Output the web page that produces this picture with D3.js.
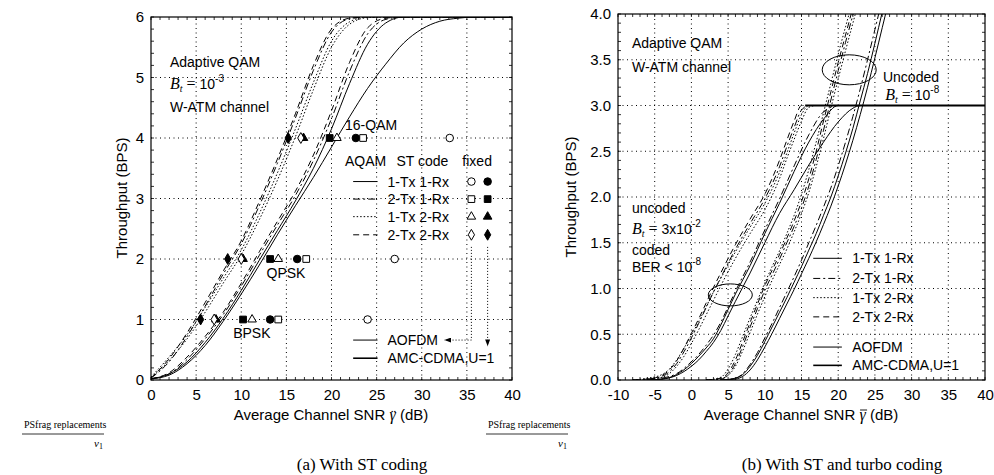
<!DOCTYPE html>
<html>
<head>
<meta charset="utf-8">
<script src="https://cdn.jsdelivr.net/npm/d3@7"></script>
<style>
  body { margin: 0; background: #fff; }
</style>
</head>
<body>
<div id="chart"></div>
<script>
// ---------- panel (a): adaptive QAM with ST coding ----------
var snrA = [0, 2, 4, 6, 8, 10, 12, 14, 16, 18, 20, 22, 24, 26, 28, 30, 32, 34, 36, 38, 40];
// left group (receive diversity)
var a2x2Ofdm = [0.03, 0.35, 0.78, 1.28, 1.8, 2.3, 2.95, 3.65, 4.4, 5.2, 5.8, 5.98, 6, 6, 6, 6, 6, 6, 6, 6, 6];
var a2x2Cdma = [0.03, 0.3, 0.72, 1.22, 1.75, 2.25, 2.88, 3.58, 4.33, 5.12, 5.75, 5.97, 6, 6, 6, 6, 6, 6, 6, 6, 6];
var a1x2Ofdm = [0.05, 0.38, 0.75, 1.2, 1.68, 2.15, 2.75, 3.42, 4.15, 4.92, 5.6, 5.92, 6, 6, 6, 6, 6, 6, 6, 6, 6];
var a1x2Cdma = [0.04, 0.32, 0.68, 1.12, 1.6, 2.07, 2.65, 3.3, 4.02, 4.8, 5.5, 5.88, 5.99, 6, 6, 6, 6, 6, 6, 6, 6];
// right group
var a2x1Ofdm = [0.02, 0.12, 0.38, 0.72, 1.12, 1.6, 2.12, 2.62, 3.12, 3.72, 4.45, 5.25, 5.82, 5.98, 6, 6, 6, 6, 6, 6, 6];
var a2x1Cdma = [0.02, 0.1, 0.34, 0.68, 1.08, 1.55, 2.06, 2.56, 3.05, 3.63, 4.32, 5.1, 5.72, 5.96, 6, 6, 6, 6, 6, 6, 6];
var a1x1Ofdm = [0.02, 0.1, 0.3, 0.62, 1.02, 1.48, 1.98, 2.47, 2.96, 3.5, 4.15, 4.9, 5.55, 5.9, 6, 6, 6, 6, 6, 6, 6];
var a1x1Cdma = [0.02, 0.08, 0.27, 0.57, 0.97, 1.42, 1.9, 2.4, 2.88, 3.35, 3.85, 4.35, 4.82, 5.22, 5.57, 5.8, 5.93, 5.98, 6, 6, 6];

// fixed-mode points (BPSK, QPSK, 16-QAM)
var fixedLevels = [1, 2, 4];
var fixedNames = ["BPSK", "QPSK", "16-QAM"];
var fixOfdm1x1 = [24.0, 27.0, 33.1];
var fixCdma1x1 = [13.2, 16.2, 22.7];
var fixOfdm2x1 = [14.1, 17.2, 23.5];
var fixCdma2x1 = [10.2, 13.2, 19.8];
var fixOfdm1x2 = [11.2, 14.1, 20.6];
var fixCdma1x2 = [7.2, 10.2, 16.9];
var fixOfdm2x2 = [7.0, 10.0, 16.6];
var fixCdma2x2 = [5.5, 8.5, 15.2];

var xTicksA = [0, 5, 10, 15, 20, 25, 30, 35, 40];
var yTicksA = [0, 1, 2, 3, 4, 5, 6];

// ---------- panel (b): adaptive QAM with ST and turbo coding ----------
// coded, dashed / dotted group
var snrB1 = [-8, -6, -4, -3, -2, -1, 0, 1, 2, 3, 4, 6, 8, 10, 12, 13, 14, 15, 16, 17, 40];
var b2x2Coded = [0, 0.01, 0.05, 0.11, 0.21, 0.35, 0.51, 0.67, 0.84, 1.01, 1.17, 1.48, 1.76, 2.03, 2.4, 2.62, 2.83, 3.0, 3.0, 3.0, 3.0];
var b2x1Coded = [0, 0.01, 0.04, 0.09, 0.18, 0.31, 0.46, 0.62, 0.79, 0.96, 1.12, 1.43, 1.71, 1.98, 2.33, 2.55, 2.76, 2.95, 3.0, 3.0, 3.0];
var b1x2CodedA = [0, 0.02, 0.06, 0.12, 0.22, 0.35, 0.49, 0.64, 0.8, 0.96, 1.11, 1.4, 1.67, 1.93, 2.27, 2.48, 2.7, 2.9, 3.0, 3.0, 3.0];
var b1x2CodedB = [0, 0.01, 0.03, 0.07, 0.15, 0.26, 0.4, 0.55, 0.71, 0.87, 1.03, 1.33, 1.6, 1.86, 2.2, 2.42, 2.63, 2.83, 2.98, 3.0, 3.0];
// coded, 1-Tx 1-Rx group
var snrB2 = [-6, -4, -2, 0, 1, 2, 3, 4, 5, 6, 8, 10, 12, 14, 16, 18, 20, 22, 23, 40];
var b1x1CodedOfdm = [0, 0.01, 0.06, 0.18, 0.26, 0.35, 0.45, 0.6, 0.77, 0.94, 1.25, 1.6, 1.93, 2.28, 2.6, 2.85, 3.0, 3.0, 3.0, 3.0];
var b1x1CodedCdma = [0, 0.01, 0.05, 0.15, 0.22, 0.31, 0.41, 0.54, 0.7, 0.86, 1.17, 1.5, 1.82, 2.08, 2.35, 2.6, 2.82, 2.97, 3.0, 3.0];
var b2x1CodedCdma = [0, 0.02, 0.07, 0.2, 0.28, 0.38, 0.49, 0.63, 0.8, 0.97, 1.29, 1.64, 1.98, 2.34, 2.68, 2.93, 3.0, 3.0, 3.0, 3.0];
// uncoded, dashed / dotted group
var snrB3 = [2, 4, 5, 6, 7, 8, 9, 10, 11, 12, 13, 14, 15, 16, 17, 18, 19, 20, 21, 22, 23];
var b2x2Unc = [0, 0.02, 0.08, 0.22, 0.42, 0.63, 0.83, 1.03, 1.2, 1.37, 1.55, 1.74, 1.95, 2.2, 2.5, 2.83, 3.15, 3.47, 3.77, 4.07, 4.37];
var b2x1Unc = [0, 0.01, 0.06, 0.18, 0.37, 0.58, 0.78, 0.98, 1.15, 1.32, 1.5, 1.68, 1.88, 2.12, 2.41, 2.73, 3.06, 3.38, 3.69, 3.99, 4.3];
var b1x2UncA = [0, 0.03, 0.12, 0.28, 0.48, 0.68, 0.87, 1.06, 1.24, 1.41, 1.6, 1.8, 2.03, 2.3, 2.6, 2.92, 3.24, 3.56, 3.86, 4.15, 4.45];
var b1x2UncB = [0, 0.01, 0.05, 0.15, 0.32, 0.52, 0.72, 0.91, 1.09, 1.26, 1.43, 1.62, 1.82, 2.05, 2.33, 2.64, 2.97, 3.29, 3.6, 3.9, 4.2];
// uncoded, 1-Tx 1-Rx group
var snrB4 = [4, 6, 7, 8, 9, 10, 11, 12, 13, 14, 15, 16, 17, 18, 19, 20, 21, 22, 23, 24, 25, 26, 27];
var b1x1UncOfdm = [0, 0.02, 0.06, 0.15, 0.27, 0.42, 0.58, 0.74, 0.9, 1.07, 1.24, 1.42, 1.6, 1.8, 2.0, 2.23, 2.48, 2.75, 3.05, 3.35, 3.68, 4.02, 4.35];
var b1x1UncCdma = [0, 0.01, 0.04, 0.11, 0.22, 0.36, 0.51, 0.67, 0.83, 0.99, 1.16, 1.33, 1.51, 1.7, 1.9, 2.12, 2.36, 2.62, 2.9, 3.2, 3.52, 3.85, 4.18];
var b2x1UncCdma = [0, 0.02, 0.07, 0.17, 0.3, 0.46, 0.62, 0.79, 0.96, 1.13, 1.31, 1.5, 1.69, 1.89, 2.1, 2.34, 2.6, 2.88, 3.18, 3.5, 3.83, 4.16, 4.5];

var xTicksB = [-10, -5, 0, 5, 10, 15, 20, 25, 30, 35, 40];
var yTicksB = [0, 0.5, 1, 1.5, 2, 2.5, 3, 3.5, 4];

var legendNames = ["1-Tx 1-Rx", "2-Tx 1-Rx", "1-Tx 2-Rx", "2-Tx 2-Rx"];

// line styles
var dash = { solid: null, dashdot: "7,3,2,3", dotted: "1.5,2", dashed: "6,4" };

var width = 994;
var height = 475;

var svg = d3.select("#chart")
    .append("svg")
    .attr("width", width)
    .attr("height", height)
    .attr("font-family", "Liberation Sans, Arial, sans-serif")
    .attr("fill", "#000");

var defs = svg.append("defs");
defs.append("marker")
    .attr("id", "arrow")
    .attr("viewBox", "0 0 8 6")
    .attr("refX", 8).attr("refY", 3)
    .attr("markerWidth", 7).attr("markerHeight", 5)
    .attr("markerUnits", "userSpaceOnUse")
    .attr("orient", "auto")
    .append("path").attr("d", "M0,0L8,3L0,6z").attr("fill", "#000");

function drawFrame(g, x, y, xTicks, yTicks, xMinor, yMinor, yFmt, id) {
    var x0 = x.range()[0], x1 = x.range()[1];
    var y0 = y.range()[0], y1 = y.range()[1];

    g.append("clipPath").attr("id", id)
        .append("rect")
        .attr("x", x0).attr("y", y1)
        .attr("width", x1 - x0).attr("height", y0 - y1);

    // dotted grid
    g.selectAll(".gx").data(xTicks.slice(1, -1)).enter().append("line")
        .attr("x1", function(d) { return x(d); }).attr("x2", function(d) { return x(d); })
        .attr("y1", y0).attr("y2", y1)
        .attr("stroke", "#000").attr("stroke-width", 1)
        .attr("stroke-dasharray", "1,3.5");
    g.selectAll(".gy").data(yTicks.slice(1, -1)).enter().append("line")
        .attr("y1", function(d) { return y(d); }).attr("y2", function(d) { return y(d); })
        .attr("x1", x0).attr("x2", x1)
        .attr("stroke", "#000").attr("stroke-width", 1)
        .attr("stroke-dasharray", "1,3.5");

    // minor ticks
    g.selectAll(".mx").data(xMinor).enter().append("path")
        .attr("d", function(d) {
            return "M" + x(d) + "," + y0 + "v-3M" + x(d) + "," + y1 + "v3";
        })
        .attr("stroke", "#000").attr("stroke-width", 0.8);
    g.selectAll(".my").data(yMinor).enter().append("path")
        .attr("d", function(d) {
            return "M" + x0 + "," + y(d) + "h3M" + x1 + "," + y(d) + "h-3";
        })
        .attr("stroke", "#000").attr("stroke-width", 0.8);

    g.append("rect")
        .attr("x", x0).attr("y", y1)
        .attr("width", x1 - x0).attr("height", y0 - y1)
        .attr("fill", "none").attr("stroke", "#000").attr("stroke-width", 1.2);

    // tick labels
    var ax = g.append("g")
        .attr("transform", "translate(0," + y0 + ")")
        .call(d3.axisBottom(x).tickValues(xTicks).tickSize(0).tickPadding(9)
            .tickFormat(function(d) { return String(d); }));
    ax.select(".domain").remove();
    ax.attr("font-family", null).attr("font-size", 15);

    var ay = g.append("g")
        .attr("transform", "translate(" + x0 + ",0)")
        .call(d3.axisLeft(y).tickValues(yTicks).tickSize(0).tickPadding(7).tickFormat(yFmt));
    ay.select(".domain").remove();
    ay.attr("font-family", null).attr("font-size", 15);
}

function drawCurves(g, x, y, series, id) {
    var line = d3.line()
        .x(function(d) { return x(d[0]); })
        .y(function(d) { return y(d[1]); })
        .curve(d3.curveMonotoneX);
    g.append("g").attr("clip-path", "url(#" + id + ")")
        .selectAll("path").data(series).enter().append("path")
        .attr("d", function(s) { return line(d3.zip(s.snr, s.values)); })
        .attr("fill", "none")
        .attr("stroke", "#000")
        .attr("stroke-width", function(s) { return s.w || 1; })
        .attr("stroke-dasharray", function(s) { return dash[s.style]; });
}

function btText(g, xp, yp, parts) {
    var t = g.append("text").attr("x", xp).attr("y", yp).attr("font-size", 14);
    t.append("tspan").attr("font-family", "Liberation Serif").attr("font-style", "italic")
        .attr("font-size", 16).text("B");
    t.append("tspan").attr("font-family", "Liberation Serif").attr("font-style", "italic")
        .attr("font-size", 10).attr("dy", 3).text("t");
    t.append("tspan").attr("font-family", "Liberation Serif").attr("font-size", 16)
        .attr("dy", -3).text(" = ");
    t.append("tspan").text(parts[0]);
    t.append("tspan").attr("font-size", 10).attr("dy", -7).text(parts[1]);
}

// x-axis title with an accent drawn over the gamma
function snrTitle(g, cx, accent) {
    var pre = "Average Channel SNR ";
    var t = g.append("text").attr("x", cx).attr("y", 420)
        .attr("text-anchor", "middle").attr("font-size", 15);
    t.append("tspan").text(pre);
    t.append("tspan").attr("font-family", "Liberation Serif").attr("font-style", "italic")
        .attr("font-size", 16).text("\u03B3");
    t.append("tspan").text(" (dB)");
    var box = t.node().getExtentOfChar(pre.length);
    var mid = box.x + box.width / 2 + 1;
    if (accent === "bar") {
        g.append("line").attr("x1", mid - 3.5).attr("x2", mid + 3.5)
            .attr("y1", 410).attr("y2", 410).attr("stroke", "#000").attr("stroke-width", 0.9);
    } else {
        g.append("text").attr("x", mid).attr("y", 420).attr("text-anchor", "middle")
            .attr("font-family", "Liberation Serif").attr("font-size", 15).text("\u00A8");
    }
}

// ================= panel (a) =================
var xA = d3.scaleLinear().domain([0, 40]).range([151, 512]);
var yA = d3.scaleLinear().domain([0, 6]).range([380, 17]);
var gA = svg.append("g");

drawFrame(gA, xA, yA, xTicksA, yTicksA, d3.range(0, 41, 1), d3.range(0, 6.01, 0.2),
    d3.format("d"), "clipA");

var seriesA = [
    { snr: snrA, values: a2x2Ofdm, style: "dashed" },
    { snr: snrA, values: a2x2Cdma, style: "dashdot" },
    { snr: snrA, values: a1x2Ofdm, style: "dotted" },
    { snr: snrA, values: a1x2Cdma, style: "dotted" },
    { snr: snrA, values: a2x1Ofdm, style: "dashed" },
    { snr: snrA, values: a2x1Cdma, style: "dashdot" },
    { snr: snrA, values: a1x1Ofdm, style: "solid" },
    { snr: snrA, values: a1x1Cdma, style: "solid" }
];
drawCurves(gA, xA, yA, seriesA, "clipA");

// fixed-mode symbols
var symbolSets = [
    { snr: fixOfdm1x1, type: d3.symbolCircle, fill: "#fff", size: 45 },
    { snr: fixCdma1x1, type: d3.symbolCircle, fill: "#000", size: 45 },
    { snr: fixOfdm2x1, type: d3.symbolSquare, fill: "#fff", size: 45 },
    { snr: fixCdma2x1, type: d3.symbolSquare, fill: "#000", size: 45 },
    { snr: fixOfdm1x2, type: d3.symbolTriangle, fill: "#fff", size: 32 },
    { snr: fixCdma1x2, type: d3.symbolTriangle, fill: "#000", size: 32 },
    { snr: fixOfdm2x2, type: d3.symbolDiamond, fill: "#fff", size: 34 },
    { snr: fixCdma2x2, type: d3.symbolDiamond, fill: "#000", size: 34 }
];
symbolSets.forEach(function(s) {
    gA.selectAll(null).data(s.snr).enter().append("path")
        .attr("d", d3.symbol().type(s.type).size(s.size))
        .attr("transform", function(d, i) { return "translate(" + xA(d) + "," + yA(fixedLevels[i]) + ")"; })
        .attr("fill", s.fill).attr("stroke", "#000").attr("stroke-width", 1);
});

// modulation labels
var modPos = [[9.1, 0.7], [12.8, 1.69], [21.5, 4.14]];
gA.selectAll(".mod").data(fixedNames).enter().append("text")
    .attr("x", function(d, i) { return xA(modPos[i][0]); })
    .attr("y", function(d, i) { return yA(modPos[i][1]); })
    .attr("font-size", 14).text(function(d) { return d; });

gA.append("text").attr("x", xA(2.1)).attr("y", yA(5.17)).attr("font-size", 14).text("Adaptive QAM");
btText(gA, xA(2.1), yA(4.81), ["10", "-3"]);
gA.append("text").attr("x", xA(2.1)).attr("y", yA(4.43)).attr("font-size", 14).text("W-ATM channel");

// legend (a)
gA.append("text").attr("x", xA(21.5)).attr("y", yA(3.53)).attr("font-size", 14).text("AQAM");
gA.append("text").attr("x", xA(27.2)).attr("y", yA(3.53)).attr("font-size", 14).text("ST code");
gA.append("text").attr("x", xA(34.5)).attr("y", yA(3.53)).attr("font-size", 14).text("fixed");
var legRowsA = [3.28, 2.99, 2.7, 2.4];
var legStyles = ["solid", "dashdot", "dotted", "dashed"];
legendNames.forEach(function(name, i) {
    var yy = yA(legRowsA[i]);
    gA.append("line").attr("x1", xA(22.4)).attr("x2", xA(25.1)).attr("y1", yy).attr("y2", yy)
        .attr("stroke", "#000").attr("stroke-dasharray", dash[legStyles[i]]);
    gA.append("text").attr("x", xA(26.2)).attr("y", yy + 5).attr("font-size", 14).text(name);
    [symbolSets[2 * i], symbolSets[2 * i + 1]].forEach(function(s, j) {
        gA.append("path")
            .attr("d", d3.symbol().type(s.type).size(s.size))
            .attr("transform", "translate(" + xA(j === 0 ? 35.5 : 37.3) + "," + yy + ")")
            .attr("fill", s.fill).attr("stroke", "#000");
    });
});
var legSysA = [["AOFDM", 0.66, 1], ["AMC-CDMA,U=1", 0.36, 1.6]];
legSysA.forEach(function(r) {
    var yy = yA(r[1]);
    gA.append("line").attr("x1", xA(22.4)).attr("x2", xA(25.1)).attr("y1", yy).attr("y2", yy)
        .attr("stroke", "#000").attr("stroke-width", r[2]);
    gA.append("text").attr("x", xA(26.2)).attr("y", yy + 5).attr("font-size", 14).text(r[0]);
});
// pointers from symbol columns to the system names
gA.append("path")
    .attr("d", "M" + xA(35.5) + "," + yA(2.2) + "V" + yA(0.66) + "H" + xA(32.5))
    .attr("fill", "none").attr("stroke", "#000").attr("stroke-dasharray", "1,2")
    .attr("marker-end", "url(#arrow)");
gA.append("path")
    .attr("d", "M" + xA(37.3) + "," + yA(2.2) + "V" + yA(0.56))
    .attr("fill", "none").attr("stroke", "#000").attr("stroke-dasharray", "1,2")
    .attr("marker-end", "url(#arrow)");

// axis titles (a)
snrTitle(gA, 331, "dots");
gA.append("text").attr("transform", "translate(127,198) rotate(-90)")
    .attr("text-anchor", "middle").attr("font-size", 15).text("Throughput (BPS)");

// ================= panel (b) =================
var xB = d3.scaleLinear().domain([-10, 40]).range([618, 985]);
var yB = d3.scaleLinear().domain([0, 4]).range([380, 14]);
var gB = svg.append("g");

drawFrame(gB, xB, yB, xTicksB, yTicksB, d3.range(-10, 40.01, 1), d3.range(0, 4.01, 0.1),
    d3.format(".1f"), "clipB");

var seriesB = [
    { snr: snrB1, values: b2x2Coded, style: "dashed" },
    { snr: snrB1, values: b2x1Coded, style: "dashdot" },
    { snr: snrB1, values: b1x2CodedA, style: "dotted" },
    { snr: snrB1, values: b1x2CodedB, style: "dotted" },
    { snr: snrB2, values: b1x1CodedOfdm, style: "solid" },
    { snr: snrB2, values: b1x1CodedCdma, style: "solid" },
    { snr: snrB2, values: b2x1CodedCdma, style: "dashdot" },
    { snr: snrB3, values: b2x2Unc, style: "dashed" },
    { snr: snrB3, values: b2x1Unc, style: "dashdot" },
    { snr: snrB3, values: b1x2UncA, style: "dotted" },
    { snr: snrB3, values: b1x2UncB, style: "dotted" },
    { snr: snrB4, values: b1x1UncOfdm, style: "solid" },
    { snr: snrB4, values: b1x1UncCdma, style: "solid" },
    { snr: snrB4, values: b2x1UncCdma, style: "dashdot" }
];
drawCurves(gB, xB, yB, seriesB, "clipB");

// heavy line where the coded curves saturate at 3 BPS
gB.append("line")
    .attr("x1", xB(15.5)).attr("x2", xB(40)).attr("y1", yB(3)).attr("y2", yB(3))
    .attr("stroke", "#000").attr("stroke-width", 2);

// ellipses grouping the curves
gB.append("ellipse").attr("cx", xB(5.3)).attr("cy", yB(0.93)).attr("rx", 22).attr("ry", 11)
    .attr("fill", "none").attr("stroke", "#000");
gB.append("ellipse").attr("cx", xB(21.5)).attr("cy", yB(3.39)).attr("rx", 27).attr("ry", 15)
    .attr("fill", "none").attr("stroke", "#000");

gB.append("text").attr("x", xB(-8.1)).attr("y", yB(3.63)).attr("font-size", 14).text("Adaptive QAM");
gB.append("text").attr("x", xB(-8.1)).attr("y", yB(3.37)).attr("font-size", 14).text("W-ATM channel");
gB.append("text").attr("x", xB(26.1)).attr("y", yB(3.26)).attr("font-size", 14).text("Uncoded");
btText(gB, xB(26.4), yB(3.06), ["10", "-8"]);
gB.append("text").attr("x", xB(-8.1)).attr("y", yB(1.83)).attr("font-size", 14).text("uncoded");
btText(gB, xB(-8.1), yB(1.6), [" 3x10", "-2"]);
gB.append("text").attr("x", xB(-8.1)).attr("y", yB(1.37)).attr("font-size", 14).text("coded");
var ber = gB.append("text").attr("x", xB(-8.1)).attr("y", yB(1.18)).attr("font-size", 14);
ber.append("tspan").text("BER <  10");
ber.append("tspan").attr("font-size", 10).attr("dy", -7).text("-8");

// legend (b)
var legRowsB = [1.33, 1.11, 0.9, 0.69];
legendNames.forEach(function(name, i) {
    var yy = yB(legRowsB[i]);
    gB.append("line").attr("x1", xB(16.6)).attr("x2", xB(20.5)).attr("y1", yy).attr("y2", yy)
        .attr("stroke", "#000").attr("stroke-dasharray", dash[legStyles[i]]);
    gB.append("text").attr("x", xB(21.9)).attr("y", yy + 5).attr("font-size", 14).text(name);
});
var legSysB = [["AOFDM", 0.36, 1], ["AMC-CDMA,U=1", 0.16, 1.6]];
legSysB.forEach(function(r) {
    var yy = yB(r[1]);
    gB.append("line").attr("x1", xB(16.6)).attr("x2", xB(20.5)).attr("y1", yy).attr("y2", yy)
        .attr("stroke", "#000").attr("stroke-width", r[2]);
    gB.append("text").attr("x", xB(21.9)).attr("y", yy + 5).attr("font-size", 14).text(r[0]);
});

snrTitle(gB, 801, "bar");
gB.append("text").attr("transform", "translate(576,197) rotate(-90)")
    .attr("text-anchor", "middle").attr("font-size", 15).text("Throughput (BPS)");

// ---------- captions and psfrag leftovers ----------
var captions = [["(a)  With ST coding", 362], ["(b)  With ST and turbo coding", 842]];
svg.selectAll(".cap").data(captions).enter().append("text")
    .attr("x", function(d) { return d[1]; }).attr("y", 470)
    .attr("text-anchor", "middle").attr("font-family", "Liberation Serif").attr("font-size", 17)
    .text(function(d) { return d[0]; });

[24, 488].forEach(function(px) {
    svg.append("text").attr("x", px).attr("y", 428)
        .attr("font-family", "Liberation Serif").attr("font-size", 10).text("PSfrag replacements");
    svg.append("line").attr("x1", px - 2).attr("x2", px + 80).attr("y1", 434).attr("y2", 434)
        .attr("stroke", "#000").attr("stroke-width", 0.8);
    var v = svg.append("text").attr("x", px + 70).attr("y", 447)
        .attr("font-family", "Liberation Serif").attr("font-size", 11);
    v.append("tspan").attr("font-style", "italic").text("v");
    v.append("tspan").attr("font-size", 8).attr("dy", 2).text("1");
});
</script>
</body>
</html>
